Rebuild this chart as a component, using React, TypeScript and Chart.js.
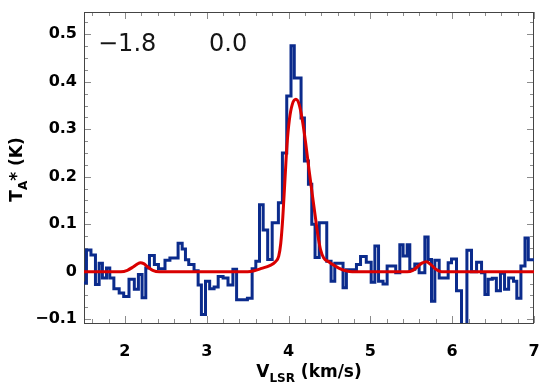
import React, { useEffect, useRef } from "react";
import { Chart, registerables } from "chart.js";

Chart.register(...registerables);

// Observed spectrum (stepped histogram): left edge of each channel and its value (K)
const blueEdges = [
  1.46, 1.53, 1.585, 1.64, 1.685, 1.725, 1.775, 1.815, 1.865, 1.93, 1.985, 2.05, 2.115, 2.165, 2.21, 2.255,
  2.3, 2.36, 2.41, 2.49, 2.55, 2.65, 2.7, 2.74, 2.78, 2.845, 2.895, 2.935, 2.985, 3.036, 3.09, 3.14, 3.2,
  3.26, 3.32, 3.365, 3.497, 3.555, 3.6, 3.645, 3.69, 3.745, 3.8, 3.876, 3.925, 3.978, 4.03, 4.07, 4.153,
  4.194, 4.243, 4.284, 4.324, 4.375, 4.467, 4.52, 4.565, 4.666, 4.707, 4.83, 4.88, 4.95, 5.01, 5.055, 5.1,
  5.155, 5.205, 5.31, 5.36, 5.4, 5.45, 5.482, 5.543, 5.596, 5.666, 5.706, 5.747, 5.788, 5.841, 5.951,
  5.992, 6.053, 6.114, 6.18, 6.236, 6.298, 6.359, 6.4, 6.44, 6.49, 6.54, 6.59, 6.64, 6.69, 6.75, 6.79,
  6.84, 6.89, 6.93, 6.97, 7.05,
];
const blueValues = [
  0.028, -0.024, 0.046, 0.035, -0.027, 0.018, -0.013, 0.008, -0.013, -0.036, -0.045, -0.052, -0.016,
  -0.037, -0.006, -0.055, 0.008, 0.034, 0.015, 0.006, 0.024, 0.029, 0.06, 0.048, 0.025, 0.015, 0.002,
  -0.028, -0.09, -0.02, -0.036, -0.032, -0.01, -0.013, -0.028, 0.005, -0.059, -0.056, 0.006, 0.022,
  0.141, 0.088, 0.026, 0.103, 0.145, 0.25, 0.37, 0.476, 0.408, 0.324, 0.233, 0.184, 0.1, 0.03, 0.103,
  0.022, -0.02, 0.018, -0.034, 0.004, 0.015, 0.032, 0.02, -0.022, 0.054, -0.02, -0.026, 0.012, -0.002,
  0.057, 0.033, 0.057, 0.005, 0.016, -0.002, 0.073, 0.026, -0.062, 0.024, -0.013, 0.019, 0.027, -0.04,
  -0.16, 0.045, 0.0, 0.02, -0.002, -0.048, -0.016, -0.014, -0.04, -0.003, -0.037, -0.013, -0.02, -0.056,
  0.012, 0.071, 0.025, 0.025,
];

const fitVel = [
  1.45, 1.95, 2.03, 2.1, 2.15, 2.19, 2.23, 2.28, 2.34, 2.42, 3.5, 3.58, 3.67, 3.77, 3.84, 3.88, 3.905,
  3.93, 3.955, 3.98, 4.01, 4.045, 4.09, 4.13, 4.17, 4.21, 4.25, 4.29, 4.33, 4.36, 4.39, 4.43, 4.49, 4.55,
  4.62, 4.7, 4.78, 5.45, 5.52, 5.58, 5.63, 5.686, 5.74, 5.8, 5.87, 7.05,
];
const fitVal = [
  0, 0, 0.003, 0.01, 0.016, 0.019, 0.017, 0.01, 0.003, 0, 0, 0.002, 0.007, 0.013, 0.021, 0.033, 0.06,
  0.115, 0.19, 0.265, 0.32, 0.352, 0.363, 0.352, 0.318, 0.27, 0.215, 0.163, 0.112, 0.075, 0.047, 0.029,
  0.021, 0.014, 0.007, 0.002, 0, 0, 0.003, 0.011, 0.018, 0.021, 0.015, 0.005, 0, 0,
];

const xMin = 1.5;
const xMax = 7;
const yMin = -0.108;
const yMax = 0.547;
const annotations = ["\u22121.8", "0.0"];

const FONT = "'DejaVu Sans', sans-serif";

const boxPlugin = {
  id: "boxTicks",
  beforeDatasetsDraw(chart: any) {
    const { ctx, chartArea: a, scales } = chart;
    const x = scales.x;
    const y = scales.y;
    ctx.save();
    ctx.strokeStyle = "#8c8c8c";
    ctx.lineWidth = 1;
    ctx.beginPath();
    for (let i = Math.ceil(x.min / 0.2 - 1e-6); i * 0.2 <= x.max + 1e-9; i++) {
      const px = Math.round(x.getPixelForValue(i * 0.2)) + 0.5;
      const len = i % 5 === 0 ? 7 : 4;
      ctx.moveTo(px, a.bottom);
      ctx.lineTo(px, a.bottom - len);
      ctx.moveTo(px, a.top);
      ctx.lineTo(px, a.top + len);
    }
    for (let i = Math.ceil(y.min / 0.025 - 1e-6); i * 0.025 <= y.max + 1e-9; i++) {
      const py = Math.round(y.getPixelForValue(i * 0.025)) + 0.5;
      const len = i % 4 === 0 ? 7 : 4;
      ctx.moveTo(a.left, py);
      ctx.lineTo(a.left + len, py);
      ctx.moveTo(a.right, py);
      ctx.lineTo(a.right - len, py);
    }
    ctx.stroke();
    ctx.strokeStyle = "#444";
    ctx.strokeRect(Math.round(a.left) + 0.5, Math.round(a.top) + 0.5, Math.round(a.right - a.left) - 1, Math.round(a.bottom - a.top));
    ctx.restore();
  },
  afterDraw(chart: any) {
    const { ctx, chartArea: a } = chart;
    ctx.save();
    ctx.fillStyle = "#151515";
    ctx.textBaseline = "alphabetic";
    ctx.textAlign = "left";
    ctx.font = `24px ${FONT}`;
    ctx.fillText(annotations[0], a.left + 14, 51);
    ctx.fillText(annotations[1], a.left + 125, 51);

    // x title: V_LSR (km/s)
    ctx.fillStyle = "#000";
    const big = `bold 17px ${FONT}`;
    const small = `bold 12px ${FONT}`;
    ctx.font = big;
    const wV = ctx.measureText("V").width;
    const wRest = ctx.measureText(" (km/s)").width;
    ctx.font = small;
    const wSub = ctx.measureText("LSR").width;
    const total = wV + wSub + wRest;
    const cx = (a.left + a.right) / 2;
    const sx = cx - total / 2;
    const base = 377;
    ctx.font = big;
    ctx.fillText("V", sx, base);
    ctx.font = small;
    ctx.fillText("LSR", sx + wV, base + 5);
    ctx.font = big;
    ctx.fillText(" (km/s)", sx + wV + wSub, base);

    // y title: T_A* (K)
    ctx.save();
    ctx.translate(22, (a.top + a.bottom) / 2 + 2);
    ctx.rotate(-Math.PI / 2);
    ctx.font = big;
    const wT = ctx.measureText("T").width;
    const wStar = ctx.measureText("* (K)").width;
    ctx.font = small;
    const wA = ctx.measureText("A").width;
    const tot2 = wT + wA + wStar;
    const tx = -tot2 / 2;
    ctx.font = big;
    ctx.fillText("T", tx, 0);
    ctx.font = small;
    ctx.fillText("A", tx + wT, 5);
    ctx.font = big;
    ctx.fillText("* (K)", tx + wT + wA, 0);
    ctx.restore();
    ctx.restore();
  },
};

export default function App() {
  const ref = useRef<HTMLCanvasElement | null>(null);
  useEffect(() => {
    document.body.style.margin = "0";
    if (!ref.current) return;
    const blueData = blueEdges.map((v, i) => ({ x: v, y: blueValues[i] }));
    const fitData = fitVel.map((v, i) => ({ x: v, y: fitVal[i] }));
    const chart = new Chart(ref.current, {
      type: "line",
      data: {
        datasets: [
          {
            data: fitData,
            borderColor: "#d90000",
            borderWidth: 3,
            pointRadius: 0,
            tension: 0.4,
            cubicInterpolationMode: "monotone",
            fill: false,
            order: 0,
          },
          {
            data: blueData,
            borderColor: "#0b2b8c",
            borderWidth: 3,
            pointRadius: 0,
            stepped: "after",
            borderJoinStyle: "miter",
            fill: false,
            order: 1,
          },
        ],
      },
      options: {
        animation: false,
        responsive: false,
        devicePixelRatio: 1,
        layout: { padding: { top: 12, right: 11, left: 0, bottom: 0 } },
        plugins: { legend: { display: false }, tooltip: { enabled: false }, title: { display: false } },
        scales: {
          x: {
            type: "linear",
            min: xMin,
            max: xMax,
            grid: { display: false, drawTicks: false },
            border: { display: false },
            ticks: {
              stepSize: 1,
              includeBounds: false,
              padding: 19,
              color: "#000",
              font: { family: FONT, size: 16, weight: "bold" },
              maxRotation: 0,
              callback: (v: any) => String(Math.round(Number(v))),
            },
            afterFit: (s: any) => {
              s.height = 66;
              s.paddingLeft = 0;
              s.paddingRight = 0;
            },
          },
          y: {
            type: "linear",
            min: yMin,
            max: yMax,
            grid: { display: false, drawTicks: false },
            border: { display: false },
            ticks: {
              stepSize: 0.1,
              includeBounds: false,
              padding: 7,
              color: "#000",
              font: { family: FONT, size: 16, weight: "bold" },
              callback: (v: any) => {
                const n = Math.round(Number(v) * 10) / 10;
                if (n === 0) return "0";
                return n.toFixed(1).replace("-", "\u2212");
              },
            },
            afterFit: (s: any) => {
              s.width = 84;
              s.paddingTop = 0;
              s.paddingBottom = 0;
            },
          },
        },
      },
      plugins: [boxPlugin],
    });
    return () => chart.destroy();
  }, []);
  return (
    <div style={{ width: 545, height: 389 }}>
      <canvas ref={ref} width={545} height={389} style={{ width: 545, height: 389, display: "block" }} />
    </div>
  );
}
